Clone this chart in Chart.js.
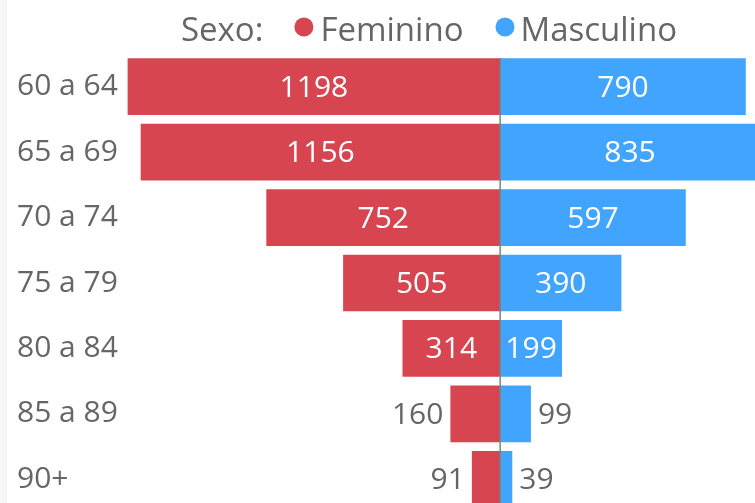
<!DOCTYPE html>
<html>
<head>
<meta charset="utf-8">
<script src="https://cdn.jsdelivr.net/npm/chart.js@4.4.1/dist/chart.umd.min.js"></script>
<style>
  html, body { margin: 0; padding: 0; background: #ffffff; }
  #wrap { position: relative; width: 755px; height: 503px; overflow: hidden; background: #fff; }
  #stripe { position: absolute; left: 0; top: 0; width: 7px; height: 503px; background: #f6f6f6; z-index: 2; }
  canvas { position: absolute; left: 0; top: 0; }
</style>
</head>
<body>
<div id="wrap">
  <div id="stripe"></div>
  <canvas id="c" width="780" height="512"></canvas>
</div>
<script>
const categories = ["60 a 64", "65 a 69", "70 a 74", "75 a 79", "80 a 84", "85 a 89", "90+"];
const feminino = [1198, 1156, 752, 505, 314, 160, 91];
const masculino = [790, 835, 597, 390, 199, 99, 39];
const legendTitle = "Sexo:";
const seriesNames = ["Feminino", "Masculino"];
const colors = ["#D64550", "#41A4FF"];
const FONT = "'Open Sans', 'Noto Sans', sans-serif";
const GRAY = "#666666";

const labelPlugin = {
  id: "barLabels",
  afterDatasetsDraw(chart) {
    const ctx = chart.ctx;
    const area = chart.chartArea;
    const zeroX = chart.scales.x.getPixelForValue(0);
    // center line
    ctx.save();
    ctx.strokeStyle = "#808080";
    ctx.lineWidth = 1.5;
    ctx.beginPath();
    ctx.moveTo(zeroX, area.top + 4);
    ctx.lineTo(zeroX, area.bottom);
    ctx.stroke();
    ctx.restore();

    ctx.save();
    ctx.font = "30px " + FONT;
    ctx.textBaseline = "alphabetic";
    const raw = [feminino, masculino];
    chart.data.datasets.forEach((ds, di) => {
      const meta = chart.getDatasetMeta(di);
      meta.data.forEach((bar, i) => {
        const p = bar.getProps(["x", "y", "base"], true);
        const v = raw[di][i];
        const txt = String(v);
        const tw = ctx.measureText(txt).width;
        const left = Math.min(p.x, p.base), right = Math.max(p.x, p.base);
        const w = right - left;
        const yb = p.y + 10;
        if (w >= tw + 6) {
          ctx.fillStyle = "#ffffff";
          ctx.textAlign = "center";
          ctx.fillText(txt, (left + right) / 2, yb);
        } else {
          ctx.fillStyle = GRAY;
          if (di === 0) {
            ctx.textAlign = "right";
            ctx.fillText(txt, left - 7, yb);
          } else {
            ctx.textAlign = "left";
            ctx.fillText(txt, right + 7, yb);
          }
        }
      });
    });
    ctx.restore();

    // legend
    ctx.save();
    ctx.font = "33px " + FONT;
    ctx.textBaseline = "alphabetic";
    ctx.textAlign = "left";
    const r = 9.5;
    const wT = ctx.measureText(legendTitle).width;
    const w1 = ctx.measureText(seriesNames[0]).width;
    const w2 = ctx.measureText(seriesNames[1]).width;
    const total = wT + 31 + 2 * r + 7 + w1 + 32 + 2 * r + 6 + w2;
    let x = 429 - total / 2;
    const base = 40.5, cy = 27;
    ctx.fillStyle = GRAY;
    ctx.fillText(legendTitle, x, base);
    x += wT + 31;
    [0, 1].forEach(k => {
      ctx.fillStyle = colors[k];
      ctx.beginPath();
      ctx.arc(x + r, cy, r, 0, Math.PI * 2);
      ctx.fill();
      x += 2 * r + (k === 0 ? 7 : 6);
      ctx.fillStyle = GRAY;
      ctx.fillText(seriesNames[k], x, base);
      x += (k === 0 ? w1 : w2) + 32;
    });
    ctx.restore();
  }
};

new Chart(document.getElementById("c"), {
  type: "bar",
  data: {
    labels: categories,
    datasets: [
      { label: seriesNames[0], data: feminino.map(v => -v), backgroundColor: colors[0], borderWidth: 0 },
      { label: seriesNames[1], data: masculino, backgroundColor: colors[1], borderWidth: 0 }
    ]
  },
  options: {
    indexAxis: "y",
    responsive: false,
    animation: false,
    devicePixelRatio: 1,
    layout: { padding: { left: 17, top: 54, right: 0, bottom: 0 } },
    datasets: { bar: { barPercentage: 0.867, categoryPercentage: 1.0 } },
    plugins: { legend: { display: false }, tooltip: { enabled: false } },
    scales: {
      x: {
        stacked: true,
        min: -1200,
        max: 900,
        display: false
      },
      y: {
        stacked: true,
        grid: { display: false },
        border: { display: false },
        ticks: {
          crossAlign: "far",
          color: GRAY,
          font: { family: FONT, size: 30 },
          padding: 0
        },
        afterFit(scale) {
          scale.width = 110;
          scale.paddingTop = 0;
          scale.paddingBottom = 0;
        }
      }
    }
  },
  plugins: [labelPlugin]
});
</script>
</body>
</html>
